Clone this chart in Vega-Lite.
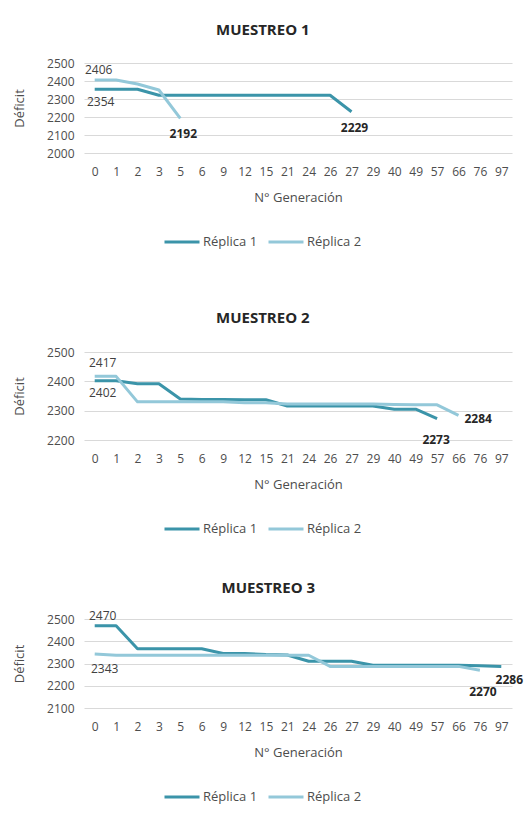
{
  "$schema": "https://vega.github.io/schema/vega-lite/v6.json",
  "padding": {"left": 13, "top": 23, "right": 5, "bottom": 5},
  "datasets": {
    "m1": [
      {"gen": 0, "replica": "Réplica 1", "deficit": 2354},
      {"gen": 1, "replica": "Réplica 1", "deficit": 2354},
      {"gen": 2, "replica": "Réplica 1", "deficit": 2354},
      {"gen": 3, "replica": "Réplica 1", "deficit": 2321},
      {"gen": 5, "replica": "Réplica 1", "deficit": 2321},
      {"gen": 6, "replica": "Réplica 1", "deficit": 2321},
      {"gen": 9, "replica": "Réplica 1", "deficit": 2321},
      {"gen": 12, "replica": "Réplica 1", "deficit": 2321},
      {"gen": 15, "replica": "Réplica 1", "deficit": 2321},
      {"gen": 21, "replica": "Réplica 1", "deficit": 2321},
      {"gen": 24, "replica": "Réplica 1", "deficit": 2321},
      {"gen": 26, "replica": "Réplica 1", "deficit": 2321},
      {"gen": 27, "replica": "Réplica 1", "deficit": 2229},
      {"gen": 0, "replica": "Réplica 2", "deficit": 2406},
      {"gen": 1, "replica": "Réplica 2", "deficit": 2406},
      {"gen": 2, "replica": "Réplica 2", "deficit": 2383},
      {"gen": 3, "replica": "Réplica 2", "deficit": 2350},
      {"gen": 5, "replica": "Réplica 2", "deficit": 2192}
    ],
    "m2": [
      {"gen": 0, "replica": "Réplica 1", "deficit": 2402},
      {"gen": 1, "replica": "Réplica 1", "deficit": 2402},
      {"gen": 2, "replica": "Réplica 1", "deficit": 2392},
      {"gen": 3, "replica": "Réplica 1", "deficit": 2392},
      {"gen": 5, "replica": "Réplica 1", "deficit": 2340},
      {"gen": 6, "replica": "Réplica 1", "deficit": 2338},
      {"gen": 9, "replica": "Réplica 1", "deficit": 2338},
      {"gen": 12, "replica": "Réplica 1", "deficit": 2337},
      {"gen": 15, "replica": "Réplica 1", "deficit": 2337},
      {"gen": 21, "replica": "Réplica 1", "deficit": 2316},
      {"gen": 24, "replica": "Réplica 1", "deficit": 2316},
      {"gen": 26, "replica": "Réplica 1", "deficit": 2316},
      {"gen": 27, "replica": "Réplica 1", "deficit": 2316},
      {"gen": 29, "replica": "Réplica 1", "deficit": 2316},
      {"gen": 40, "replica": "Réplica 1", "deficit": 2305},
      {"gen": 49, "replica": "Réplica 1", "deficit": 2305},
      {"gen": 57, "replica": "Réplica 1", "deficit": 2273},
      {"gen": 0, "replica": "Réplica 2", "deficit": 2417},
      {"gen": 1, "replica": "Réplica 2", "deficit": 2417},
      {"gen": 2, "replica": "Réplica 2", "deficit": 2330},
      {"gen": 3, "replica": "Réplica 2", "deficit": 2330},
      {"gen": 5, "replica": "Réplica 2", "deficit": 2330},
      {"gen": 6, "replica": "Réplica 2", "deficit": 2330},
      {"gen": 9, "replica": "Réplica 2", "deficit": 2330},
      {"gen": 12, "replica": "Réplica 2", "deficit": 2327},
      {"gen": 15, "replica": "Réplica 2", "deficit": 2327},
      {"gen": 21, "replica": "Réplica 2", "deficit": 2323},
      {"gen": 24, "replica": "Réplica 2", "deficit": 2323},
      {"gen": 26, "replica": "Réplica 2", "deficit": 2323},
      {"gen": 27, "replica": "Réplica 2", "deficit": 2323},
      {"gen": 29, "replica": "Réplica 2", "deficit": 2323},
      {"gen": 40, "replica": "Réplica 2", "deficit": 2321},
      {"gen": 49, "replica": "Réplica 2", "deficit": 2320},
      {"gen": 57, "replica": "Réplica 2", "deficit": 2320},
      {"gen": 66, "replica": "Réplica 2", "deficit": 2284}
    ],
    "m3": [
      {"gen": 0, "replica": "Réplica 1", "deficit": 2470},
      {"gen": 1, "replica": "Réplica 1", "deficit": 2470},
      {"gen": 2, "replica": "Réplica 1", "deficit": 2366},
      {"gen": 3, "replica": "Réplica 1", "deficit": 2366},
      {"gen": 5, "replica": "Réplica 1", "deficit": 2366},
      {"gen": 6, "replica": "Réplica 1", "deficit": 2366},
      {"gen": 9, "replica": "Réplica 1", "deficit": 2345},
      {"gen": 12, "replica": "Réplica 1", "deficit": 2345},
      {"gen": 15, "replica": "Réplica 1", "deficit": 2340},
      {"gen": 21, "replica": "Réplica 1", "deficit": 2338},
      {"gen": 24, "replica": "Réplica 1", "deficit": 2310},
      {"gen": 26, "replica": "Réplica 1", "deficit": 2310},
      {"gen": 27, "replica": "Réplica 1", "deficit": 2310},
      {"gen": 29, "replica": "Réplica 1", "deficit": 2292},
      {"gen": 40, "replica": "Réplica 1", "deficit": 2292},
      {"gen": 49, "replica": "Réplica 1", "deficit": 2292},
      {"gen": 57, "replica": "Réplica 1", "deficit": 2292},
      {"gen": 66, "replica": "Réplica 1", "deficit": 2292},
      {"gen": 76, "replica": "Réplica 1", "deficit": 2290},
      {"gen": 97, "replica": "Réplica 1", "deficit": 2286},
      {"gen": 0, "replica": "Réplica 2", "deficit": 2343},
      {"gen": 1, "replica": "Réplica 2", "deficit": 2337},
      {"gen": 2, "replica": "Réplica 2", "deficit": 2337},
      {"gen": 3, "replica": "Réplica 2", "deficit": 2337},
      {"gen": 5, "replica": "Réplica 2", "deficit": 2337},
      {"gen": 6, "replica": "Réplica 2", "deficit": 2337},
      {"gen": 9, "replica": "Réplica 2", "deficit": 2337},
      {"gen": 12, "replica": "Réplica 2", "deficit": 2337},
      {"gen": 15, "replica": "Réplica 2", "deficit": 2337},
      {"gen": 21, "replica": "Réplica 2", "deficit": 2337},
      {"gen": 24, "replica": "Réplica 2", "deficit": 2337},
      {"gen": 26, "replica": "Réplica 2", "deficit": 2287},
      {"gen": 27, "replica": "Réplica 2", "deficit": 2287},
      {"gen": 29, "replica": "Réplica 2", "deficit": 2287},
      {"gen": 40, "replica": "Réplica 2", "deficit": 2287},
      {"gen": 49, "replica": "Réplica 2", "deficit": 2287},
      {"gen": 57, "replica": "Réplica 2", "deficit": 2287},
      {"gen": 66, "replica": "Réplica 2", "deficit": 2287},
      {"gen": 76, "replica": "Réplica 2", "deficit": 2270}
    ],
    "etiquetas": [
      {"muestreo": 1, "gen": 0, "deficit": 2406, "lado": "arriba", "final": false},
      {"muestreo": 1, "gen": 0, "deficit": 2354, "lado": "abajo", "final": false},
      {"muestreo": 1, "gen": 5, "deficit": 2192, "lado": "abajo", "final": true},
      {"muestreo": 1, "gen": 27, "deficit": 2229, "lado": "abajo", "final": true},
      {"muestreo": 2, "gen": 0, "deficit": 2417, "lado": "arriba", "final": false},
      {"muestreo": 2, "gen": 0, "deficit": 2402, "lado": "abajo", "final": false},
      {"muestreo": 2, "gen": 57, "deficit": 2273, "lado": "abajo", "final": true},
      {"muestreo": 2, "gen": 66, "deficit": 2284, "lado": "derecha", "final": true},
      {"muestreo": 3, "gen": 0, "deficit": 2470, "lado": "arriba", "final": false},
      {"muestreo": 3, "gen": 0, "deficit": 2343, "lado": "abajo", "final": false},
      {"muestreo": 3, "gen": 76, "deficit": 2270, "lado": "abajo", "final": true},
      {"muestreo": 3, "gen": 97, "deficit": 2286, "lado": "abajo_derecha", "final": true}
    ]
  },
  "config": {
    "font": "Open Sans",
    "view": {"stroke": null},
    "axis": {
      "labelFont": "Open Sans",
      "labelFontSize": 12,
      "labelColor": "#4d4d4d",
      "labelOverlap": false,
      "labelFlush": false,
      "titleFont": "Open Sans",
      "titleFontSize": 13,
      "titleFontWeight": "normal",
      "titleColor": "#4d4d4d",
      "domain": false,
      "ticks": false,
      "gridColor": "#d9d9d9",
      "gridWidth": 1
    },
    "title": {
      "fontSize": 15,
      "fontWeight": "bold",
      "color": "#262626",
      "anchor": "middle",
      "frame": "bounds",
      "offset": 19
    },
    "legend": {
      "direction": "horizontal",
      "symbolType": "stroke",
      "symbolSize": 1225,
      "symbolStrokeWidth": 3,
      "labelFontSize": 13,
      "labelColor": "#4d4d4d",
      "labelFont": "Open Sans",
      "columnPadding": 4,
      "labelOffset": 2
    }
  },
  "spacing": 62,
  "resolve": {"scale": {"color": "independent", "y": "independent"}, "legend": {"color": "independent"}, "axis": {"x": "independent", "y": "independent"}},
  "vconcat": [
    {
      "title": {"text": "MUESTREO 1", "offset": 19},
      "width": 428,
      "height": 90,
      "encoding": {
        "x": {"field": "gen", "type": "ordinal", "scale": {"domain": [0,1,2,3,5,6,9,12,15,21,24,26,27,29,40,49,57,66,76,97]}, "axis": {"title": "N° Generación", "labelAngle": 0, "labelPadding": 13, "titlePadding": 14}},
        "y": {"field": "deficit", "type": "quantitative", "scale": {"domain": [2000, 2500], "nice": false, "zero": false}, "axis": {"title": "Déficit", "values": [2000,2100,2200,2300,2400,2500], "format": "d", "labelPadding": 10, "titlePadding": 20}}
      },
      "layer": [
        {
          "data": {"name": "m1"},
          "mark": {"type": "line", "strokeWidth": 3, "strokeJoin": "round"},
          "encoding": {
            "color": {"field": "replica", "type": "nominal", "scale": {"domain": ["Réplica 1", "Réplica 2"], "range": ["#3b94a9", "#93c8d9"]}, "legend": {"title": null, "orient": "none", "legendX": 79, "legendY": 160}}
          }
        },
        {
          "data": {"name": "etiquetas"},
          "transform": [{"filter": "datum.muestreo == 1 && datum.lado == 'arriba'"}],
          "mark": {"type": "text", "dy": -10, "dx": 4, "fontSize": 12, "color": "#404040"},
          "encoding": {"text": {"field": "deficit", "type": "quantitative", "format": "d"}}
        },
        {
          "data": {"name": "etiquetas"},
          "transform": [{"filter": "datum.muestreo == 1 && datum.lado == 'abajo' && !datum.final"}],
          "mark": {"type": "text", "dy": 13, "dx": 6, "fontSize": 12, "color": "#404040"},
          "encoding": {"text": {"field": "deficit", "type": "quantitative", "format": "d"}}
        },
        {
          "data": {"name": "etiquetas"},
          "transform": [{"filter": "datum.muestreo == 1 && datum.lado == 'abajo' && datum.final"}],
          "mark": {"type": "text", "dy": 16, "dx": 3, "fontSize": 12, "fontWeight": "bold", "color": "#262626"},
          "encoding": {"text": {"field": "deficit", "type": "quantitative", "format": "d"}}
        }
      ]
    },
    {
      "spacing": 44,
      "resolve": {"scale": {"color": "independent", "y": "independent"}, "legend": {"color": "independent"}, "axis": {"x": "independent", "y": "independent"}},
      "vconcat": [
        {
          "title": {"text": "MUESTREO 2", "offset": 20},
          "width": 428,
          "height": 88,
          "encoding": {
            "x": {"field": "gen", "type": "ordinal", "scale": {"domain": [0,1,2,3,5,6,9,12,15,21,24,26,27,29,40,49,57,66,76,97]}, "axis": {"title": "N° Generación", "labelAngle": 0, "labelPadding": 13, "titlePadding": 14}},
            "y": {"field": "deficit", "type": "quantitative", "scale": {"domain": [2200, 2500], "nice": false, "zero": false}, "axis": {"title": "Déficit", "values": [2200,2300,2400,2500], "format": "d", "labelPadding": 10, "titlePadding": 20}}
          },
          "layer": [
            {
              "data": {"name": "m2"},
              "mark": {"type": "line", "strokeWidth": 3, "strokeJoin": "round"},
              "encoding": {
                "color": {"field": "replica", "type": "nominal", "scale": {"domain": ["Réplica 1", "Réplica 2"], "range": ["#3b94a9", "#93c8d9"]}, "legend": {"title": null, "orient": "none", "legendX": 79, "legendY": 158}}
              }
            },
            {
              "data": {"name": "etiquetas"},
              "transform": [{"filter": "datum.muestreo == 2 && datum.lado == 'arriba'"}],
              "mark": {"type": "text", "dy": -13, "dx": 8, "fontSize": 12, "color": "#404040"},
              "encoding": {"text": {"field": "deficit", "type": "quantitative", "format": "d"}}
            },
            {
              "data": {"name": "etiquetas"},
              "transform": [{"filter": "datum.muestreo == 2 && datum.lado == 'abajo' && !datum.final"}],
              "mark": {"type": "text", "dy": 12, "dx": 8, "fontSize": 12, "color": "#404040"},
              "encoding": {"text": {"field": "deficit", "type": "quantitative", "format": "d"}}
            },
            {
              "data": {"name": "etiquetas"},
              "transform": [{"filter": "datum.muestreo == 2 && datum.lado == 'abajo' && datum.final"}],
              "mark": {"type": "text", "dy": 21, "dx": -1, "fontSize": 12, "fontWeight": "bold", "color": "#262626"},
              "encoding": {"text": {"field": "deficit", "type": "quantitative", "format": "d"}}
            },
            {
              "data": {"name": "etiquetas"},
              "transform": [{"filter": "datum.muestreo == 2 && datum.lado == 'derecha'"}],
              "mark": {"type": "text", "dy": 4, "dx": 6, "align": "left", "fontSize": 12, "fontWeight": "bold", "color": "#262626"},
              "encoding": {"text": {"field": "deficit", "type": "quantitative", "format": "d"}}
            }
          ]
        },
        {
          "title": {"text": "MUESTREO 3", "offset": 14},
          "width": 428,
          "height": 89,
          "encoding": {
            "x": {"field": "gen", "type": "ordinal", "scale": {"domain": [0,1,2,3,5,6,9,12,15,21,24,26,27,29,40,49,57,66,76,97]}, "axis": {"title": "N° Generación", "labelAngle": 0, "labelPadding": 13, "titlePadding": 14}},
            "y": {"field": "deficit", "type": "quantitative", "scale": {"domain": [2100, 2500], "nice": false, "zero": false}, "axis": {"title": "Déficit", "values": [2100,2200,2300,2400,2500], "format": "d", "labelPadding": 10, "titlePadding": 20}}
          },
          "layer": [
            {
              "data": {"name": "m3"},
              "mark": {"type": "line", "strokeWidth": 3, "strokeJoin": "round"},
              "encoding": {
                "color": {"field": "replica", "type": "nominal", "scale": {"domain": ["Réplica 1", "Réplica 2"], "range": ["#3b94a9", "#93c8d9"]}, "legend": {"title": null, "orient": "none", "legendX": 79, "legendY": 159}}
              }
            },
            {
              "data": {"name": "etiquetas"},
              "transform": [{"filter": "datum.muestreo == 3 && datum.lado == 'arriba'"}],
              "mark": {"type": "text", "dy": -10, "dx": 8, "fontSize": 12, "color": "#404040"},
              "encoding": {"text": {"field": "deficit", "type": "quantitative", "format": "d"}}
            },
            {
              "data": {"name": "etiquetas"},
              "transform": [{"filter": "datum.muestreo == 3 && datum.lado == 'abajo' && !datum.final"}],
              "mark": {"type": "text", "dy": 15, "dx": 10, "fontSize": 12, "color": "#404040"},
              "encoding": {"text": {"field": "deficit", "type": "quantitative", "format": "d"}}
            },
            {
              "data": {"name": "etiquetas"},
              "transform": [{"filter": "datum.muestreo == 3 && datum.lado == 'abajo' && datum.final"}],
              "mark": {"type": "text", "dy": 22, "dx": 3, "fontSize": 12, "fontWeight": "bold", "color": "#262626"},
              "encoding": {"text": {"field": "deficit", "type": "quantitative", "format": "d"}}
            },
            {
              "data": {"name": "etiquetas"},
              "transform": [{"filter": "datum.muestreo == 3 && datum.lado == 'abajo_derecha'"}],
              "mark": {"type": "text", "dy": 13, "dx": 8, "fontSize": 12, "fontWeight": "bold", "color": "#262626"},
              "encoding": {"text": {"field": "deficit", "type": "quantitative", "format": "d"}}
            }
          ]
        }
      ]
    }
  ]
}
